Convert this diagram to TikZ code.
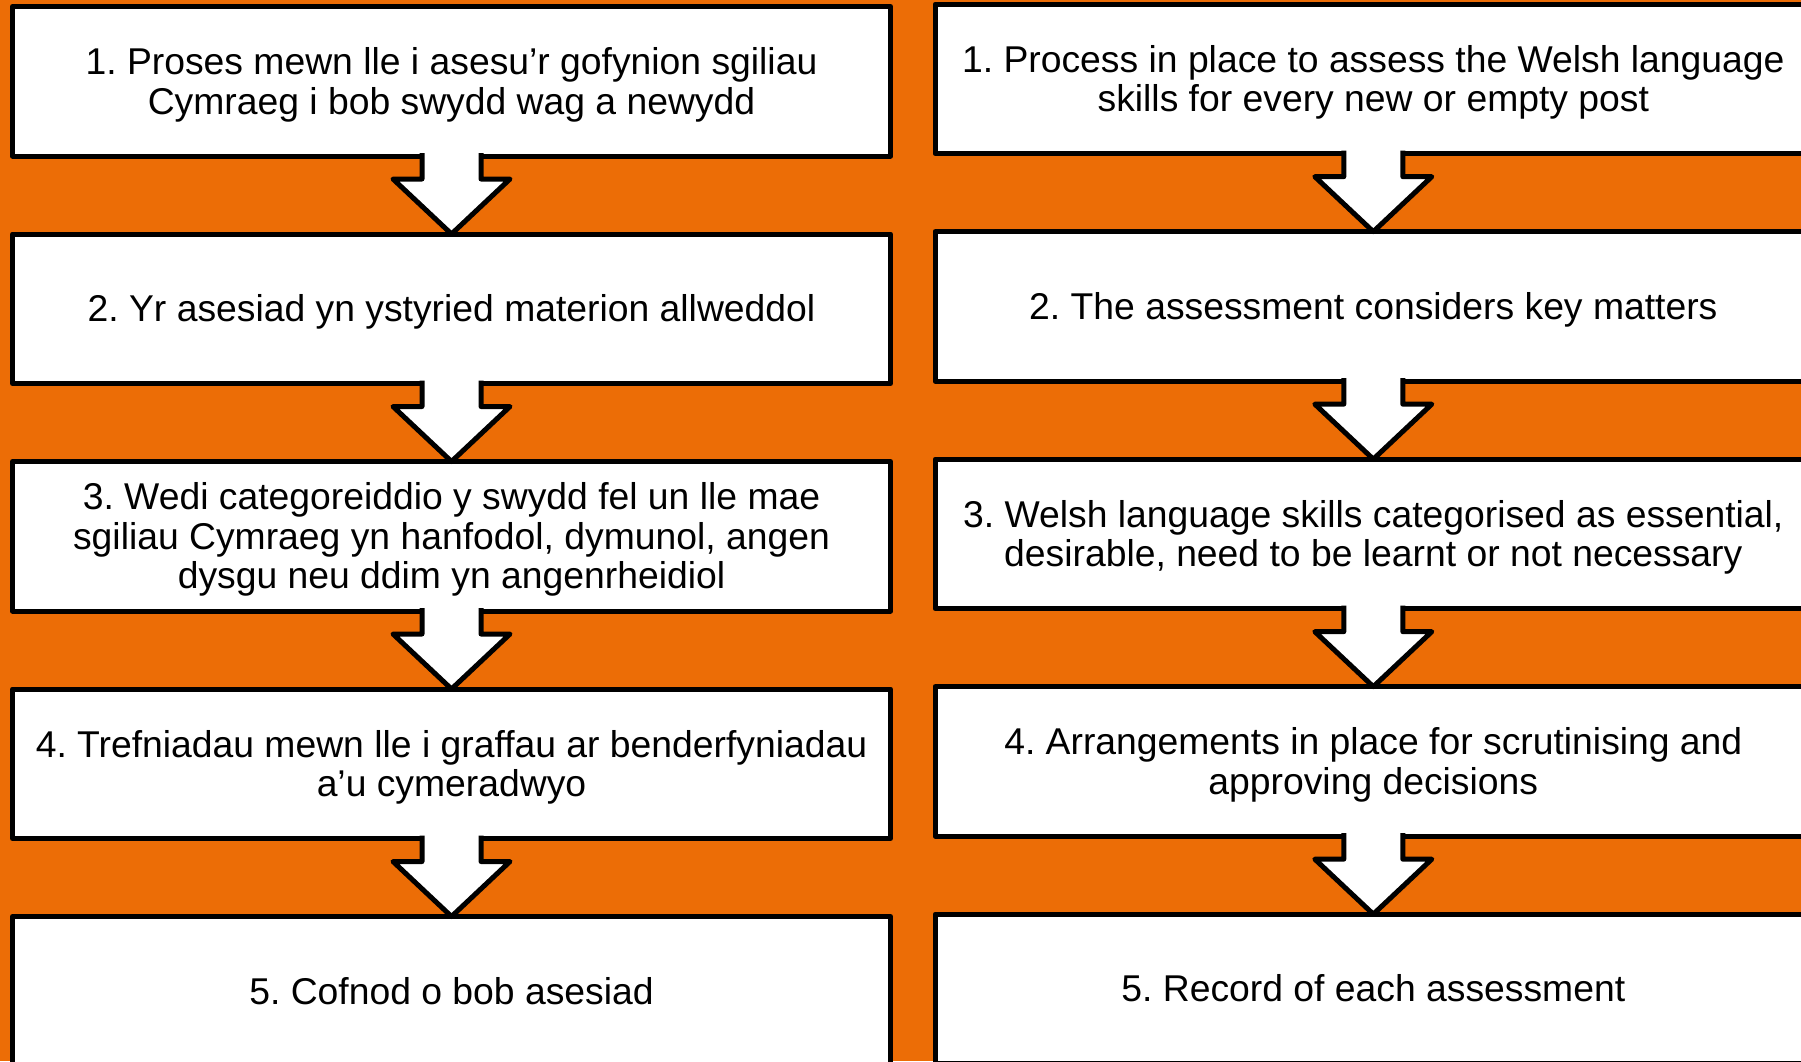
\documentclass[tikz,border=0pt]{standalone}
\usepackage{fontspec}
\setmainfont{Liberation Sans}[Ligatures={NoCommon}]
\usetikzlibrary{calc}
\definecolor{bgorange}{RGB}{236,109,6}
\frenchspacing
\newcommand\firstln[1]{\rule{0pt}{27.2pt}\smash{#1}}
\newcommand\lastln[1]{\smash{#1}\rule[-1.1pt]{0pt}{1.1pt}}
\newcommand\onlyln[1]{\smash{#1}\rule[-1.1pt]{0pt}{28.3pt}}
\newcommand\flowarrow[2]{%
  \path[blockarrow]
    ($(#1.south)+(-29.5,-3)$) -- ($(#1.south)+(-29.5,23)$) --
    ($(#1.south)+(-58.5,23)$) -- (#2.north) --
    ($(#1.south)+(58.5,23)$) -- ($(#1.south)+(29.5,23)$) --
    ($(#1.south)+(29.5,-3)$);}
\begin{document}
\begin{tikzpicture}[x=1pt,y=-1pt,
  box/.style={draw=black, fill=white, line width=5pt, rectangle,
    inner sep=0pt, outer sep=0pt, minimum height=149.5pt, align=center,
    font={\fontsize{37.3pt}{39.4pt}\selectfont\frenchspacing}, line join=round},
  lbox/.style={box, minimum width=878pt},
  rbox/.style={box, minimum width=876.6pt},
  blockarrow/.style={draw=black, fill=white, line width=5pt, line join=round}]
\useasboundingbox (0,0) rectangle (1801,1061);
\clip (0,0) rectangle (1801,1061);
\fill[bgorange] (0,0) rectangle (1801,1061);

% Welsh column
\node[lbox] (L1) at (451.5,81.25) {\firstln{1. Proses mewn lle i asesu’r gofynion sgiliau}\\\lastln{Cymraeg i bob swydd wag a newydd}};
\node[lbox] (L2) at (451.5,308.75) {\onlyln{2. Yr asesiad yn ystyried materion allweddol}};
\node[lbox] (L3) at (451.5,536.25) {\firstln{3. Wedi categoreiddio y swydd fel un lle mae}\\sgiliau Cymraeg yn hanfodol, dymunol, angen\\\lastln{dysgu neu ddim yn angenrheidiol}};
\node[lbox] (L4) at (451.5,763.75) {\firstln{4. Trefniadau mewn lle i graffau ar benderfyniadau}\\\lastln{a’u cymeradwyo}};
\node[lbox] (L5) at (451.5,991.25) {\onlyln{5. Cofnod o bob asesiad}};

% English column
\node[rbox] (R1) at (1373.3,78.9) {\firstln{1. Process in place to assess the Welsh language}\\\lastln{skills for every new or empty post}};
\node[rbox] (R2) at (1373.3,306.4) {\onlyln{2. The assessment considers key matters}};
\node[rbox] (R3) at (1373.3,533.9) {\firstln{3. Welsh language skills categorised as essential,}\\\lastln{desirable, need to be learnt or not necessary}};
\node[rbox] (R4) at (1373.3,761.4) {\firstln{4. Arrangements in place for scrutinising and}\\\lastln{approving decisions}};
\node[rbox] (R5) at (1373.3,988.9) {\onlyln{5. Record of each assessment}};

\flowarrow{L1}{L2}
\flowarrow{L2}{L3}
\flowarrow{L3}{L4}
\flowarrow{L4}{L5}
\flowarrow{R1}{R2}
\flowarrow{R2}{R3}
\flowarrow{R3}{R4}
\flowarrow{R4}{R5}
\end{tikzpicture}
\end{document}
